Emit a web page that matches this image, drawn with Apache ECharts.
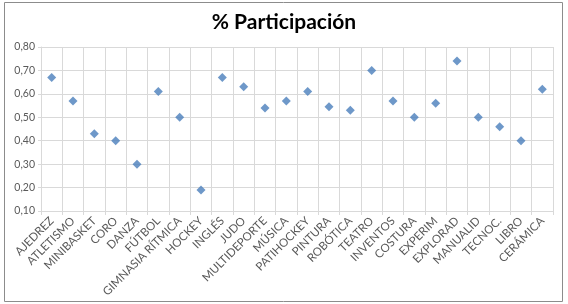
<!DOCTYPE html>
<html><head><meta charset="utf-8">
<script src="https://cdn.jsdelivr.net/npm/echarts@6/dist/echarts.min.js"></script>
<style>html,body{margin:0;padding:0;background:#fff}#c{width:568px;height:304px}</style>
</head><body><div id="c"></div>
<script>
const categories = ['AJEDREZ','ATLETISMO','MINIBASKET','CORO','DANZA','FÚTBOL','GIMNASIA RÍTMICA','HOCKEY','INGLÉS','JUDO','MULTIDEPORTE','MÚSICA','PATIHOCKEY','PINTURA','ROBÓTICA','TEATRO','INVENTOS','COSTURA','EXPERIM','EXPLORAD','MANUALID','TECNOC.','LIBRO','CERÁMICA'];
const participacion = [0.67,0.57,0.43,0.40,0.30,0.61,0.50,0.19,0.67,0.63,0.54,0.57,0.61,0.545,0.53,0.70,0.57,0.50,0.56,0.74,0.50,0.46,0.40,0.62];
const yTicks = {min:0.1, max:0.8, interval:0.1};
const title = '% Participación';

const chart = echarts.init(document.getElementById('c'), null, {renderer:'canvas'});
const font = 'Lato, "Open Sans", sans-serif';
chart.setOption({
  animation:false,
  title:{text:title,left:'center',top:7,textStyle:{fontFamily:font,fontSize:21,fontWeight:'bold',color:'#000'}},
  graphic:[{type:'rect',shape:{x:4.5,y:2.5,width:558,height:299},style:{fill:'none',stroke:'#8c8c8c',lineWidth:1},silent:true}],
  grid:{left:41,right:15,top:47,bottom:93},
  xAxis:{type:'category',data:categories,boundaryGap:true,
    axisLine:{lineStyle:{color:'#d9d9d9'}},
    axisTick:{show:true,length:4,lineStyle:{color:'#d9d9d9'}},
    splitLine:{show:true,lineStyle:{color:'#d9d9d9'}},
    axisLabel:{rotate:45,interval:0,color:'#595959',fontFamily:font,fontSize:11.5,margin:8}},
  yAxis:{type:'value',min:yTicks.min,max:yTicks.max,interval:yTicks.interval,
    axisLine:{show:true,lineStyle:{color:'#d9d9d9'}},
    axisTick:{show:true,length:3,lineStyle:{color:'#d9d9d9'}},
    splitLine:{lineStyle:{color:'#d9d9d9'}},
    axisLabel:{color:'#595959',fontFamily:font,fontSize:10.5,margin:6,formatter:v=>v.toFixed(2).replace('.',',')}},
  series:[{type:'scatter',data:participacion,symbol:'diamond',symbolSize:9,itemStyle:{color:'#4a7ebb'}}]
});
</script></body></html>
